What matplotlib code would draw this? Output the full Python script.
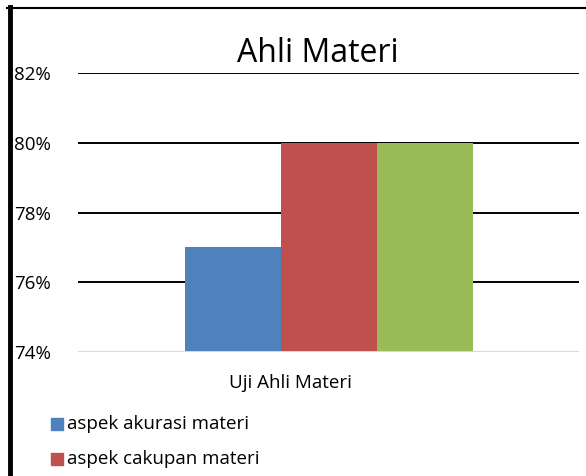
import matplotlib.pyplot as plt
from matplotlib.lines import Line2D

series = ["aspek akurasi materi", "aspek cakupan materi", "aspek kesesuaian materi"]
values = [77, 80, 80]
colors = ["#4F81BD", "#C0504D", "#9BBB59"]
category = "Uji Ahli Materi"
yticks = [74, 76, 78, 80, 82]

plt.rcParams["font.family"] = ["Open Sans", "DejaVu Sans"]

W, H = 586, 476
fig = plt.figure(figsize=(W / 100, H / 100), dpi=100)

# plot area
ax = fig.add_axes([78 / W, (H - 352) / H, 501 / W, (352 - 73) / H])
pos = [-1, 0, 1]
for p, v, c, s in zip(pos, values, colors, series):
    ax.bar(p, v - 74, bottom=74, width=1.0, color=c, label=s, zorder=2)

ax.set_ylim(74, 82)
ax.set_xlim(-2.62, 2.6)
ax.set_yticks(yticks)
ax.set_yticklabels([f"{t}%" for t in yticks], fontsize=13.5)
ax.tick_params(axis="y", length=0, pad=46)
for lab in ax.get_yticklabels():
    lab.set_horizontalalignment("left")
ax.set_xticks([])
for t in yticks[1:]:
    ax.axhline(t, color="black", lw=1.4, zorder=1)
ax.axhline(74, color="#d9d9d9", lw=1.4, zorder=3)
for sp in ax.spines.values():
    sp.set_visible(False)

fig.text(318 / W, 1 - 53 / H, "Ahli Materi", ha="center", va="center", fontsize=23)
fig.text(290 / W, 1 - 383 / H, category, ha="center", va="center", fontsize=13.5)

# legend entries
for i, (s, c) in enumerate(zip(series, colors)):
    y = 1 - (424 + 35 * i) / H
    fig.patches.append(plt.Rectangle((51 / W, y - 6 / H), 12 / W, 12 / H,
                                     transform=fig.transFigure, color=c))
    fig.text(67 / W, y, s, ha="left", va="center", fontsize=13.5)

# page frame lines and cut-off caption
fig.add_artist(Line2D([7 / W, 1], [1 - 7.5 / H, 1 - 7.5 / H], color="black", lw=1.5))
fig.add_artist(Line2D([10 / W, 10 / W], [0, 1 - 7 / H], color="black", lw=3.5))
fig.text(0.5, 1 + 9 / H, "Gambar 3. Grafik Hasil Validasi Ahli Materi",
         ha="center", va="center", fontsize=20, fontweight="bold", color="#555555")

fig.savefig("out.png", dpi=100)
